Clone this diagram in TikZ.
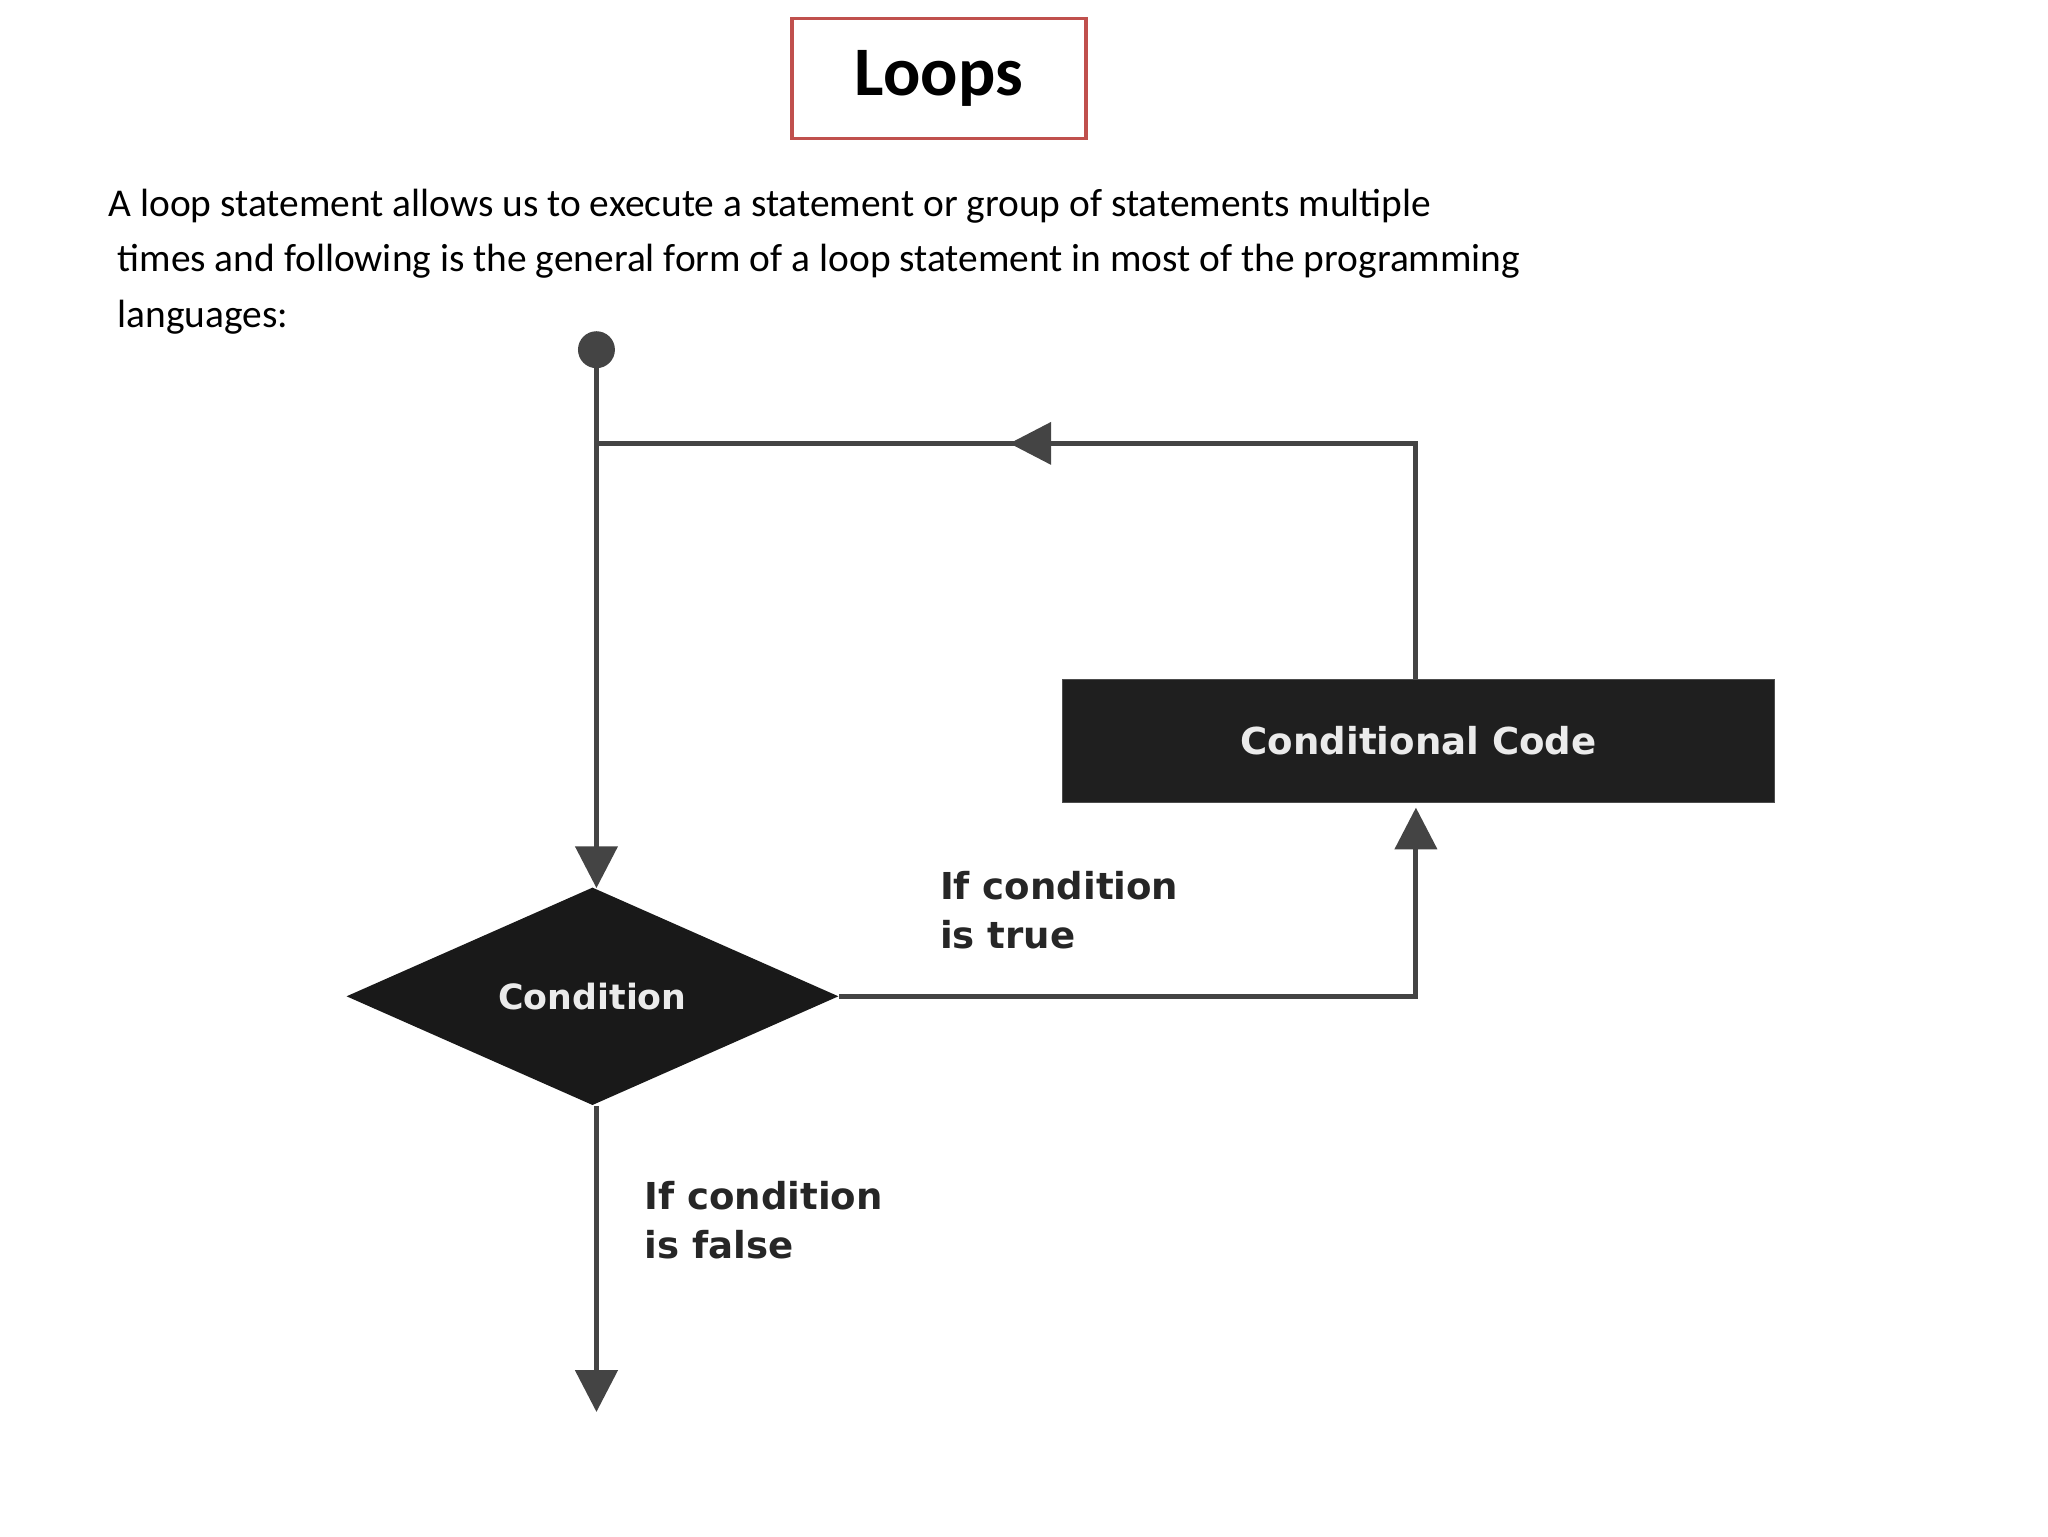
\documentclass[tikz,border=0pt]{standalone}
\usepackage{fontspec}
\setmainfont{Carlito}
\newfontfamily\flowfont{DejaVu Sans}
\usetikzlibrary{shapes.geometric,arrows.meta}
\definecolor{ln}{HTML}{444444}
\begin{document}
\begin{tikzpicture}[x=0.02cm,y=-0.02cm,
  conn/.style={draw=ln,line width=2.2pt},
  tip/.style={-{Triangle[length=18pt,width=18pt]}},
  flbl/.style={font=\flowfont\bfseries\fontsize{16}{21}\selectfont,text=black!85,align=left,anchor=north west,inner sep=0pt}]
\useasboundingbox (0,0) rectangle (1552,1164);
\node[draw={rgb,255:red,192;green,80;blue,77},line width=1.5pt,minimum width=223*0.02cm,minimum height=91*0.02cm,font=\bfseries\fontsize{30}{36}\selectfont] (title) at (711.5,59.5) {Loops};
\node[anchor=north west,align=left,inner sep=0pt,font=\fontsize{17}{23.9}\selectfont] (para) at (82,143) {A loop statement allows us to execute a statement or group of statements multiple\\ \ times and following is the general form of a loop statement in most of the programming\\ \ languages:};
\node[circle,fill=ln,minimum size=28*0.02cm,inner sep=0pt] (start) at (452,265) {};
\coordinate (j) at (452,336);
\node[diamond,fill=black!90,minimum width=373*0.02cm,minimum height=165*0.02cm,inner sep=0pt,aspect=2.26,text=white!92!black,font=\flowfont\bfseries\fontsize{15}{18}\selectfont] (cond) at (449,755) {Condition};
\node[fill=black!88,draw=black!70,minimum width=540*0.02cm,minimum height=93*0.02cm,text=white!92!black,font=\flowfont\bfseries\fontsize{16}{19}\selectfont] (code) at (1075,561.5) {Conditional Code};
\coordinate (cr) at (1073,755);
\coordinate (ct) at (1073,336);
\coordinate (mid) at (765,336);
\coordinate (end) at (452,1070);
\draw[conn] (start.center) -- (j);
\draw[conn,tip] (j) -- (452,673);
\draw[conn] (code.north -| ct) -- (ct) -- (mid);
\draw[conn,tip] (ct) -- (mid);
\draw[conn] (mid) -- (j);
\draw[conn,tip] (cond.east) -- (cr) -- (1073,612);
\draw[conn,tip] (452,838) -- (end);
\node[flbl] (t) at (712,660) {If condition\\ is true};
\node[flbl] (f) at (488,895) {If condition\\ is false};
\end{tikzpicture}
\end{document}
